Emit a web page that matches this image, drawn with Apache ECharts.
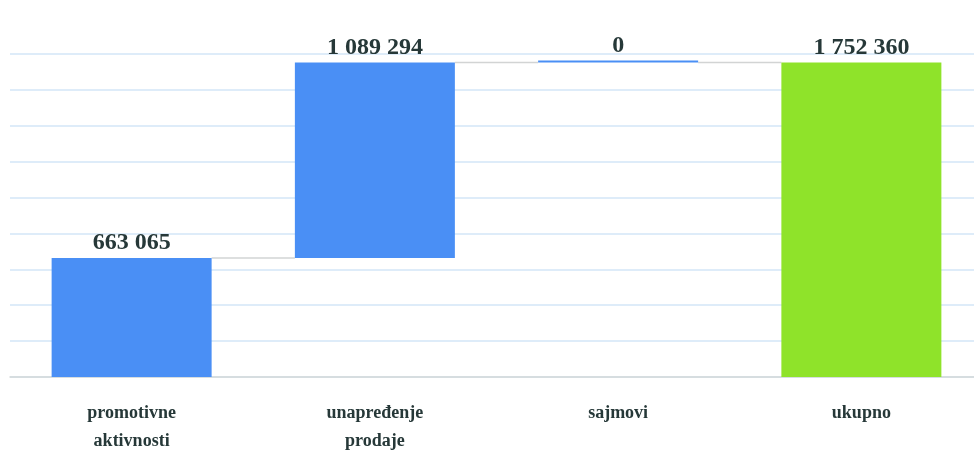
<!DOCTYPE html>
<html>
<head>
<meta charset="utf-8">
<script src="https://cdn.jsdelivr.net/npm/echarts@6/dist/echarts.min.js"></script>
<style>
html, body { margin: 0; padding: 0; background: #ffffff; }
#main { width: 974px; height: 455px; }
</style>
</head>
<body>
<div id="main"></div>
<script>
var categories = ['promotivne\naktivnosti', 'unapređenje\nprodaje', 'sajmovi', 'ukupno'];
var values = [663065, 1089294, 0, 1752360];
var isTotal = [false, false, false, true];

var blue = '#4a8ff5';
var green = '#8fe32a';

// nevidljiva osnova za waterfall
var base = [];
var running = 0;
for (var i = 0; i < values.length; i++) {
    if (isTotal[i]) {
        base.push(0);
    } else {
        base.push(running);
        running += values[i];
    }
}
var connectors = [];
var level = 0;
for (var j = 0; j < values.length - 1; j++) {
    level = isTotal[j] ? values[j] : base[j] + values[j];
    connectors.push([j, level]);
}

function fmt(v) {
    return String(v).replace(/\B(?=(\d{3})+(?!\d))/g, ' ');
}

var myChart = echarts.init(document.getElementById('main'));
var barW = 160;

var option = {
    animation: false,
    grid: { left: 10, right: -9, top: 54, bottom: 78, outerBoundsMode: 'none' },
    xAxis: {
        type: 'category',
        data: categories,
        axisTick: { show: false },
        axisLine: { lineStyle: { color: '#d4d8d8', width: 1.5 } },
        axisLabel: {
            margin: 22,
            color: '#263838',
            fontFamily: 'Liberation Serif',
            fontWeight: 'bold',
            fontSize: 18,
            lineHeight: 28
        }
    },
    yAxis: {
        type: 'value',
        min: 0,
        max: 1800000,
        interval: 200000,
        axisLabel: { show: false },
        axisLine: { show: false },
        axisTick: { show: false },
        splitLine: { lineStyle: { color: '#d3e6f7', width: 1.5 } }
    },
    series: [
        {
            type: 'bar',
            stack: 'w',
            barWidth: barW,
            silent: true,
            itemStyle: { color: 'transparent' },
            data: base
        },
        {
            type: 'bar',
            stack: 'w',
            barWidth: barW,
            barMinHeight: 2,
            data: values.map(function (v, k) {
                return { value: v, itemStyle: { color: isTotal[k] ? green : blue } };
            }),
            label: {
                show: true,
                position: 'top',
                distance: 3,
                color: '#263838',
                fontFamily: 'Liberation Serif',
                fontWeight: 'bold',
                fontSize: 24,
                formatter: function (p) { return fmt(p.value); }
            }
        },
        {
            type: 'custom',
            silent: true,
            z: 1,
            data: connectors,
            renderItem: function (params, api) {
                var a = api.coord([api.value(0), api.value(1)]);
                var b = api.coord([api.value(0) + 1, api.value(1)]);
                return {
                    type: 'line',
                    shape: { x1: a[0] + barW / 2, y1: a[1], x2: b[0] - barW / 2, y2: b[1] },
                    style: { stroke: '#d2d4d4', lineWidth: 1.5 }
                };
            }
        }
    ]
};

myChart.setOption(option);
</script>
</body>
</html>
